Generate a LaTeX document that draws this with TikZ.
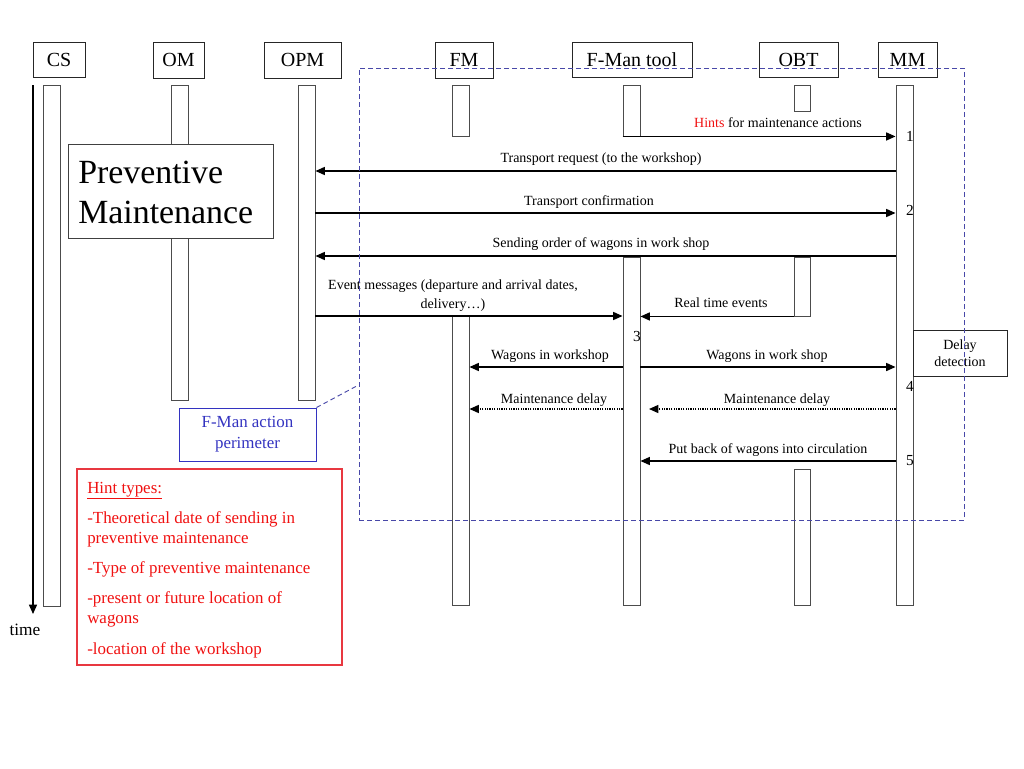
\documentclass[tikz,border=0pt]{standalone}
\usepackage{fontspec}
\setmainfont{Liberation Serif}
\usetikzlibrary{arrows.meta,fit}
\definecolor{perim}{HTML}{4848A8}
\definecolor{hintred}{HTML}{F01010}
\definecolor{boxred}{HTML}{E83840}
\definecolor{fmblue}{HTML}{3333C0}
\begin{document}
\begin{tikzpicture}[x=0.75pt,y=-0.75pt,
  head/.style={draw=black!85, line width=0.7pt, inner sep=0pt},
  headtxt/.style={font=\fontsize{15}{17}\selectfont, inner sep=0pt},
  bar/.style={draw=black!70, fill=white, line width=0.7pt, inner sep=0pt},
  msg/.style={line width=1pt, -{Triangle[length=7pt,width=6pt]}},
  dmsg/.style={msg, dash pattern=on 0.9pt off 0.9pt},
  lbl/.style={font=\fontsize{10.5}{12.5}\selectfont, anchor=base, inner sep=0pt},
  num/.style={font=\fontsize{11.5}{13}\selectfont, anchor=base, inner sep=0pt},
  hint/.style={font=\fontsize{12.7}{15}\selectfont, text=hintred, anchor=base west, inner sep=0pt}]
\useasboundingbox (0,0) rectangle (1024,768);

% lifeline bars
\node[bar, fit={(43,85)(60,606)}] (cs1) {};
\node[bar, fit={(171,85)(188,400)}] (om1) {};
\node[bar, fit={(298,85)(315,400)}] (opm1) {};
\node[bar, fit={(452,85)(469,136)}] (fm1) {};
\node[bar, fit={(452,316)(469,605)}] (fm2) {};
\node[bar, fit={(623,85)(640,136)}] (ft1) {};
\node[bar, fit={(623,257)(640,605)}] (ft2) {};
\node[bar, fit={(794,85)(810,111)}] (obt1) {};
\node[bar, fit={(794,257)(810,316)}] (obt2) {};
\node[bar, fit={(794,469)(810,605)}] (obt3) {};
\node[bar, fit={(896,85)(913,605)}] (mm1) {};

% headers
\node[head, fit={(33,42)(85,77)}, label={[headtxt]center:CS}] (cs) {};
\node[head, fit={(153,42)(204,78)}, label={[headtxt]center:OM}] (om) {};
\node[head, fit={(264,42)(341,78)}, label={[headtxt]center:OPM}] (opm) {};
\node[head, fit={(435,42)(493,78)}, label={[headtxt]center:FM}] (fm) {};
\node[head, fit={(572,42)(692,77)}, label={[headtxt]center:F-Man tool}] (ft) {};
\node[head, fit={(759,42)(838,77)}, label={[headtxt]center:OBT}] (obt) {};
\node[head, fit={(878,42)(937,77)}, label={[headtxt]center:MM}] (mm) {};

% time axis
\coordinate (t0) at (33,85);
\coordinate (t1) at (33,614);
\draw[line width=1.1pt, -{Triangle[length=7pt,width=6pt]}] (t0) -- (t1);
\node[font=\fontsize{13}{15}\selectfont, anchor=base, inner sep=0pt] (time) at (25,635) {time};

% messages
\draw[msg] (ft1.south west) -- (mm1.west |- ft1.south);
\draw[msg] (mm1.west |- 0,171) -- (opm1.east |- 0,171);
\draw[msg] (opm1.east |- 0,213) -- (mm1.west |- 0,213);
\draw[msg] (mm1.west |- 0,256) -- (opm1.east |- 0,256);
\draw[msg] (opm1.east |- 0,316) -- (ft2.west |- 0,316);
\draw[msg] (obt2.south west) -- (ft2.east |- obt2.south);
\draw[msg] (ft2.west |- 0,367) -- (fm2.east |- 0,367);
\draw[msg] (ft2.east |- 0,367) -- (mm1.west |- 0,367);
\coordinate (md) at (649,409);
\draw[dmsg] (mm1.west |- md) -- (md);
\draw[dmsg] (ft2.west |- md) -- (fm2.east |- md);
\draw[msg] (mm1.west |- 0,461) -- (ft2.east |- 0,461);

% labels
\node[lbl] (l1) at (778,127) {\textcolor{hintred}{Hints} for maintenance actions};
\node[lbl] (l2) at (601,162) {Transport request (to the workshop)};
\node[lbl] (l3) at (589,205) {Transport confirmation};
\node[lbl] (l4) at (601,247) {Sending order of wagons in work shop};
\node[lbl] (l5a) at (453,289) {Event messages (departure and arrival dates,};
\node[lbl] (l5b) at (453,308) {delivery…)};
\node[lbl] (l6) at (721,307) {Real time events};
\node[lbl] (l7) at (550,359) {Wagons in workshop};
\node[lbl] (l8) at (767,359) {Wagons in work shop};
\node[lbl] (l9) at (554,403) {Maintenance delay};
\node[lbl] (l10) at (777,403) {Maintenance delay};
\node[lbl] (l11) at (768,453) {Put back of wagons into circulation};

% step numbers
\node[num] (n1) at (910,141) {1};
\node[num] (n2) at (910,215) {2};
\node[num] (n3) at (637,341) {3};
\node[num] (n4) at (910,391) {4};
\node[num] (n5) at (910,465) {5};

% delay detection
\node[draw=black!85, fill=white, line width=0.7pt, inner sep=0pt, fit={(913,330)(1007,376)},
      label={[align=center, inner sep=0pt, font=\fontsize{10.5}{12.8}\selectfont]center:Delay\\detection}] (dd) {};

% preventive maintenance box
\node[draw=black!75, fill=white, line width=0.7pt, inner sep=0pt, fit={(68,144)(273,238)}] (pm) {};
\node[font=\fontsize{25.4}{30}\selectfont, anchor=base west, inner sep=0pt] (pm1) at (78,183) {Preventive};
\node[font=\fontsize{25.4}{30}\selectfont, anchor=base west, inner sep=0pt] (pm2) at (78,223) {Maintenance};

% perimeter
\node[draw=perim, line width=0.7pt, dash pattern=on 3.5pt off 2.5pt, inner sep=0pt, fit={(359,68)(964,520)}] (per) {};
\node[draw=fmblue, line width=0.7pt, inner sep=0pt, fit={(179,408)(316,461)},
      label={[align=center, inner sep=0pt, text=fmblue, font=\fontsize{12.7}{15.8}\selectfont]center:F-Man action\\perimeter}] (fap) {};
\draw[perim, line width=0.7pt, dash pattern=on 3.5pt off 2.5pt] (fap.north east) -- (per.west |- 0,385);

% hint types
\node[draw=boxred, line width=0.8pt, inner sep=0pt, fit={(77,469)(342,665)}] (hb) {};
\node[hint] (h1) at (87,493) {\underline{Hint types:}};
\node[hint] (h2) at (87,523) {-Theoretical date of sending in};
\node[hint] (h3) at (87,543) {preventive maintenance};
\node[hint] (h4) at (87,573) {-Type of preventive maintenance};
\node[hint] (h5) at (87,603) {-present or future location of};
\node[hint] (h6) at (87,623) {wagons};
\node[hint] (h7) at (87,654) {-location of the workshop};
\end{tikzpicture}
\end{document}
